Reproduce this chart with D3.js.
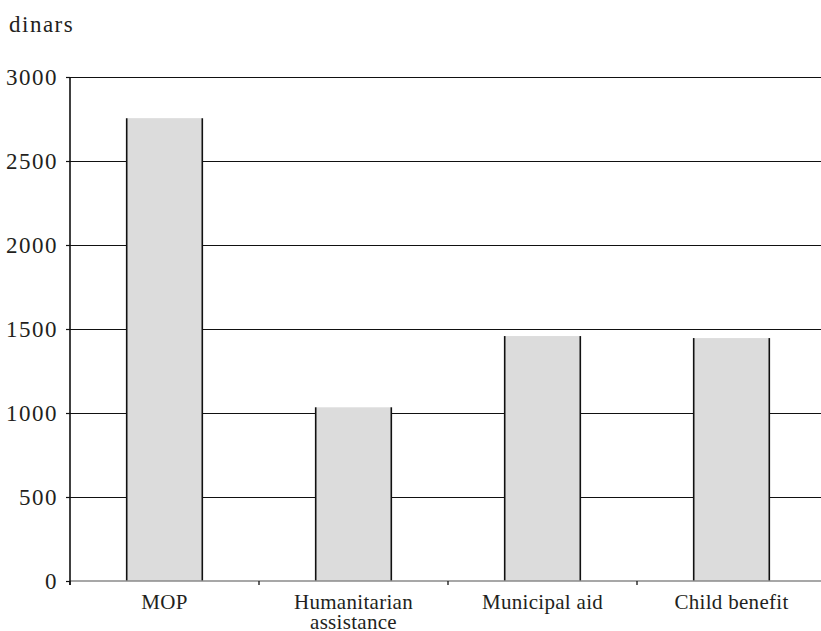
<!DOCTYPE html>
<html>
<head>
<meta charset="utf-8">
<script src="https://cdn.jsdelivr.net/npm/d3@7"></script>
<style>
  body { margin: 0; background: #fff; }
</style>
</head>
<body>
<div id="chart"></div>
<script>
// data
const categories = ['MOP', 'Humanitarian\nassistance', 'Municipal aid', 'Child benefit']
const values = [2755, 1034, 1458, 1446]
const yTicks = [0, 500, 1000, 1500, 2000, 2500, 3000]
const unitLabel = 'dinars'

const W = 821
const H = 631
const margin = { top: 77, left: 70, right: -5, bottom: 50 }
const serif = "'Liberation Serif', 'Times New Roman', serif"

const svg = d3.select('#chart')
  .append('svg')
  .attr('width', W)
  .attr('height', H)
  .attr('font-family', serif)

const x = d3.scaleBand()
  .domain(categories)
  .range([margin.left, W - margin.right])
  .paddingInner(0.6)
  .paddingOuter(0.3)

const y = d3.scaleLinear()
  .domain([0, 3000])
  .range([H - margin.bottom, margin.top])

// gridlines (behind bars)
svg.append('g')
  .selectAll('line')
  .data(yTicks.filter(d => d > 0))
  .enter()
  .append('line')
  .attr('x1', margin.left)
  .attr('x2', W)
  .attr('y1', d => Math.round(y(d)) + 0.5)
  .attr('y2', d => Math.round(y(d)) + 0.5)
  .attr('stroke', '#111')
  .attr('stroke-width', 1)

// bars
const bars = svg.append('g')
  .selectAll('g')
  .data(values)
  .enter()
  .append('g')

bars.append('rect')
  .attr('x', (d, i) => x(categories[i]))
  .attr('y', d => y(d))
  .attr('width', x.bandwidth())
  .attr('height', d => y(0) - y(d))
  .attr('fill', '#dcdcdc')

bars.append('line')
  .attr('x1', (d, i) => x(categories[i]))
  .attr('x2', (d, i) => x(categories[i]))
  .attr('y1', d => y(d))
  .attr('y2', y(0))
  .attr('stroke', '#111')
  .attr('stroke-width', 1.6)

bars.append('line')
  .attr('x1', (d, i) => x(categories[i]) + x.bandwidth())
  .attr('x2', (d, i) => x(categories[i]) + x.bandwidth())
  .attr('y1', d => y(d))
  .attr('y2', y(0))
  .attr('stroke', '#111')
  .attr('stroke-width', 1.6)

// x axis: baseline plus ticks at band edges
const xAxis = svg.append('g')
  .attr('class', 'x-axis')
  .attr('transform', 'translate(0,' + y(0) + ')')

xAxis.append('line')
  .attr('x1', margin.left)
  .attr('x2', W)
  .attr('stroke', '#8a8a8a')
  .attr('stroke-width', 1.6)

const step = x.step()
const edges = categories.map(c => x(c) - step * x.paddingInner() / 2)
xAxis.selectAll('.edge')
  .data(edges)
  .enter()
  .append('line')
  .attr('class', 'edge')
  .attr('x1', d => d)
  .attr('x2', d => d)
  .attr('y1', 0)
  .attr('y2', 4)
  .attr('stroke', '#111')
  .attr('stroke-width', 1.3)

const xLabels = xAxis.selectAll('.lab')
  .data(categories)
  .enter()
  .append('text')
  .attr('class', 'lab')
  .attr('text-anchor', 'middle')
  .attr('font-size', '21px')
  .attr('letter-spacing', '0.3px')
  .attr('fill', '#231f20')
  .attr('transform', d => 'translate(' + (x(d) + x.bandwidth() / 2) + ',28)')

xLabels.each(function(d) {
  const lines = d.split('\n')
  d3.select(this).selectAll('tspan')
    .data(lines)
    .enter()
    .append('tspan')
    .attr('x', 0)
    .attr('y', (l, i) => i * 20)
    .text(l => l)
})

// y axis
const yAxis = d3.axisLeft(y)
  .tickValues(yTicks)
  .tickFormat(d3.format('d'))
  .tickSize(4)
  .tickPadding(8)
const yg = svg.append('g')
  .attr('class', 'y-axis')
  .attr('transform', 'translate(' + margin.left + ',0)')
  .call(yAxis)
  .attr('font-family', serif)
  .attr('font-size', 23)

yg.select('.domain')
  .attr('stroke', '#111')
  .attr('stroke-width', 1.6)
  .attr('d', 'M0,' + y(3000) + 'V' + (y(0) + 4))
yg.selectAll('.tick line').attr('stroke', '#111').attr('stroke-width', 1.2)
yg.selectAll('.tick text')
  .attr('fill', '#231f20')
  .attr('letter-spacing', '1.5px')
  .attr('dy', '0.33em')

svg.append('text')
  .text(unitLabel)
  .attr('x', 9)
  .attr('y', 32)
  .attr('font-size', '23px')
  .attr('letter-spacing', '1.5px')
  .attr('fill', '#231f20')
</script>
</body>
</html>
